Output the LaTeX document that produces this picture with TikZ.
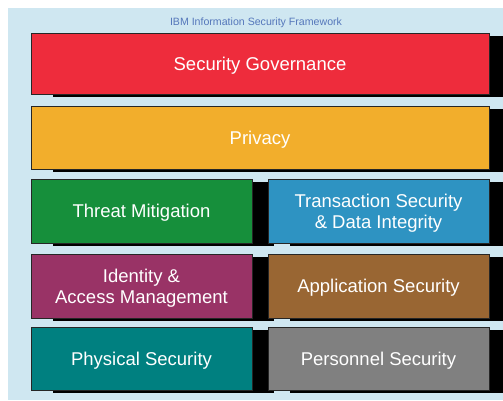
\documentclass[tikz,border=0pt]{standalone}
\usepackage{fontspec}
\setmainfont{Liberation Sans}
\usetikzlibrary{positioning,shadows}
\definecolor{bgblue}{RGB}{207,231,241}
\definecolor{titleblue}{RGB}{85,119,187}
\definecolor{govred}{RGB}{238,44,60}
\definecolor{privorange}{RGB}{242,174,44}
\definecolor{threatgreen}{RGB}{22,143,59}
\definecolor{transblue}{RGB}{46,147,194}
\definecolor{idpurple}{RGB}{153,51,102}
\definecolor{appbrown}{RGB}{153,102,51}
\definecolor{phyteal}{RGB}{0,128,128}
\definecolor{persgrey}{RGB}{128,128,128}
\tikzset{layer/.style={rectangle,draw=black!85,line width=0.8pt,text=white,align=center,
		font=\fontsize{18.5}{21}\selectfont,inner sep=0pt,outer sep=0pt,text depth=0pt,anchor=north west,
		drop shadow={shadow xshift=22pt,shadow yshift=-3pt,fill=black,opacity=1}},
	wide layer/.style={layer,minimum width=458pt},
	half layer/.style={layer,minimum width=221pt},
}

\begin{document}
\begin{tikzpicture}[x=1pt,y=-1pt]
		\useasboundingbox (0,0) rectangle (503,400);
		\clip (0,0) rectangle (503,400);
		\fill[bgblue] (8,8) rectangle (503,400);
		\node[text=titleblue,font=\fontsize{10.6}{12}\selectfont] (title) at (256,23) {IBM Information Security Framework};
		
		\node[wide layer,fill=govred,minimum height=61pt] (gov) at (31,33) {Security Governance};
		\node[wide layer,fill=privorange,minimum height=63pt] (priv) [below=12pt of gov.south west,anchor=north west] {Privacy};
		\node[half layer,fill=threatgreen,minimum height=64pt] (threat) [below=10pt of priv.south west,anchor=north west] {Threat Mitigation};
		\node[half layer,fill=transblue,minimum height=64pt] (trans) [right=16pt of threat.north east,anchor=north west] {Transaction Security\\ \& Data Integrity};
		\node[half layer,fill=idpurple,minimum height=64pt] (ident) [below=11pt of threat.south west,anchor=north west] {Identity \&\\ Access Management};
		\node[half layer,fill=appbrown,minimum height=64pt] (app) [right=16pt of ident.north east,anchor=north west] {Application Security};
		\node[half layer,fill=phyteal,minimum height=63pt] (phys) [below=9pt of ident.south west,anchor=north west] {Physical Security};
		\node[half layer,fill=persgrey,minimum height=63pt] (pers) [right=16pt of phys.north east,anchor=north west] {Personnel Security};
		
	\end{tikzpicture}
\end{document}
